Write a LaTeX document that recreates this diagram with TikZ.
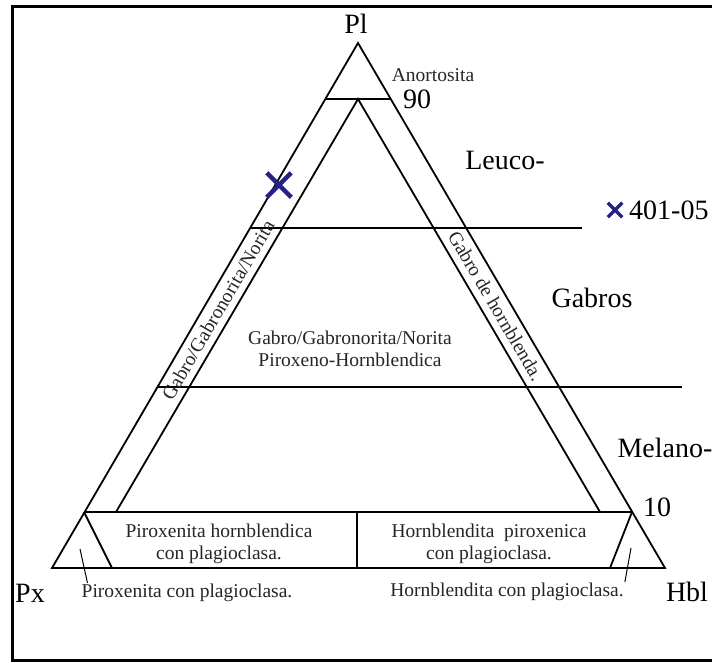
\documentclass[tikz,border=0pt]{standalone}
\usepackage{fontspec}
\setmainfont{Liberation Serif}
\usetikzlibrary{shapes.misc}
\definecolor{crossblue}{RGB}{38,32,135}
\tikzset{
  edge/.style={line width=1.8pt},
  lbl/.style={font=\fontsize{19.5}{22}\selectfont, inner sep=1pt, text=black!85},
  biglbl/.style={font=\fontsize{28}{32}\selectfont, inner sep=1pt},
  leader/.style={line width=1pt},
  sample/.style={cross out, draw=crossblue, inner sep=0pt}
}
\begin{document}
\begin{tikzpicture}[x=1pt,y=-1pt]
	\useasboundingbox (0,0) rectangle (712,662);
	\draw[line width=3pt] (712,6)--(12,6)--(12,660)--(712,660);
	\coordinate (Pl) at (358,43);
	\coordinate (Px) at (52,568);
	\coordinate (Hbl) at (665,568);
	\draw[edge] (Px)--(Pl)--(Hbl)--cycle;
	\draw[edge] (325,99)--(391,99);
	\draw[edge] (116,512)--(358,99)--(600,512);
	\draw[edge] (250,228)--(582,228);
	\draw[edge] (157,387)--(682,387);
	\draw[edge] (84,512)--(632,512);
	\draw[edge] (357,512)--(357,568);
	\draw[edge] (84,512)--(112,568);
	\draw[edge] (632,512)--(610,568);
	\node[biglbl] (pl) at (356,24) {Pl};
	\node[biglbl] (px) at (30,593) {Px};
	\node[biglbl] (hbl) at (687,592) {Hbl};
	\node[lbl] (anort) at (433,75) {Anortosita};
	\node[biglbl] (n90) at (417,99) {90};
	\node[biglbl] (n10) at (657,507) {10};
	\node[biglbl] (leuco) at (505,160) {Leuco-};
	\node[biglbl] (gabros) at (592,298) {Gabros};
	\node[biglbl] (melano) at (665,448) {Melano-};
	\node[lbl,align=center] (gabro) at (350,349) {Gabro/Gabronorita/Norita\\Piroxeno-Hornblendica};
	\node[lbl,rotate=59.67] (gnleft) at (218,310) {Gabro/Gabronorita/Norita};
	\node[lbl,rotate=-59.67] (ghright) at (496,306) {Gabro de hornblenda.};
	\node[lbl,align=center] (pxhbl) at (219,544) {Piroxenita hornblendica\\con plagioclasa.};
	\node[lbl,align=center] (hblpx) at (489,544) {Hornblendita\ \ piroxenica\\con plagioclasa.};
	\node[lbl] (pxcp) at (187,593) {Piroxenita con plagioclasa.};
	\node[lbl] (hblcp) at (507,592) {Hornblendita con plagioclasa.};
	\coordinate (pxtip) at (80,549);
	\coordinate (hbltip) at (631,548);
	\draw[leader] (pxtip)--([xshift=7pt]pxcp.north west);
	\draw[leader] (hbltip)--(hblcp.north east);
	% muestra
	\node[sample,line width=4.5pt,minimum size=20pt] (s1) at (279,185) {};
	\node[sample,line width=3.5pt,minimum size=11pt] (key) at (615,210) {};
	\node[biglbl,anchor=west] (keylbl) at (628,210) {401-05};
\end{tikzpicture}
\end{document}
